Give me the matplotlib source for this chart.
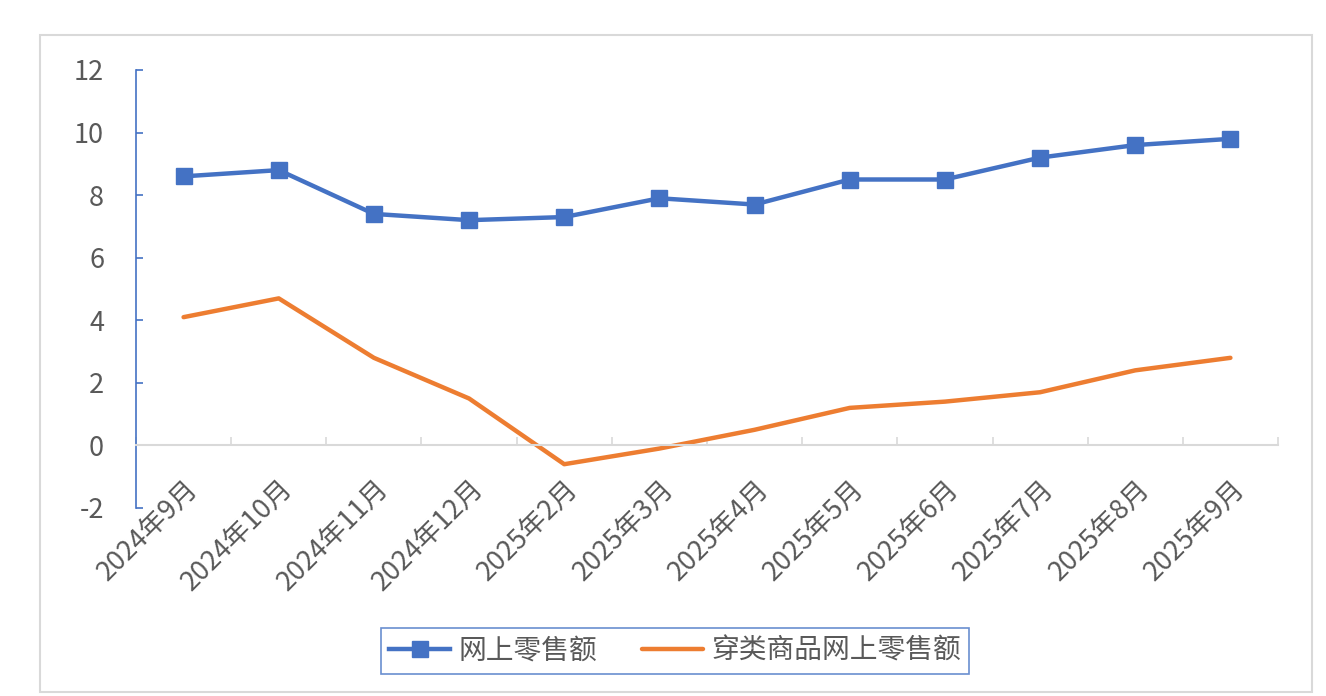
import matplotlib
matplotlib.use('Agg')
import matplotlib.pyplot as plt
import matplotlib.transforms as mtransforms
from matplotlib.patches import Rectangle

plt.rcParams['font.family'] = ['Noto Sans CJK SC', 'DejaVu Sans']

# 数据
months = ['2024年9月', '2024年10月', '2024年11月', '2024年12月', '2025年2月', '2025年3月',
          '2025年4月', '2025年5月', '2025年6月', '2025年7月', '2025年8月', '2025年9月']
online_retail = [8.6, 8.8, 7.4, 7.2, 7.3, 7.9, 7.7, 8.5, 8.5, 9.2, 9.6, 9.8]
apparel_online = [4.1, 4.7, 2.8, 1.5, -0.6, -0.1, 0.5, 1.2, 1.4, 1.7, 2.4, 2.8]
y_ticks = [-2, 0, 2, 4, 6, 8, 10, 12]

blue = '#4472C4'
orange = '#ED7D31'
grey_txt = '#595959'
grey_line = '#D9D9D9'

fig = plt.figure(figsize=(13.26, 6.96), dpi=100)
fig.patches.append(Rectangle((40 / 1326, 4 / 696), 1272 / 1326, 657 / 696,
                             transform=fig.transFigure, fill=False,
                             edgecolor=grey_line, linewidth=1.5))
ax = fig.add_axes([136 / 1326, 1 - 508 / 696, 1142 / 1326, 438 / 696])

x = list(range(len(months)))
ax.plot(x, online_retail, color=blue, linewidth=3.2, marker='s', markersize=11,
        label='网上零售额')
ax.plot(x, apparel_online, color=orange, linewidth=3.2, solid_capstyle='round',
        label='穿类商品网上零售额')

ax.set_xlim(-0.5, len(months) - 0.5)
ax.set_ylim(-2, 12)
ax.set_yticks(y_ticks)
ax.set_yticklabels([str(v) for v in y_ticks])

# 坐标轴样式
ax.spines['top'].set_visible(False)
ax.spines['right'].set_visible(False)
ax.spines['bottom'].set_position(('data', 0))
ax.spines['bottom'].set_color(grey_line)
ax.spines['bottom'].set_linewidth(1.5)
ax.spines['left'].set_color(blue)
ax.spines['left'].set_linewidth(1.2)

ax.tick_params(axis='y', direction='in', length=5, width=1.2, color=blue,
               labelcolor=grey_txt, labelsize=19.5, pad=23)
ax.set_xticks(x)
ax.set_xticks([i - 0.5 for i in range(len(months) + 1)], minor=True)
ax.set_xticklabels(months, rotation=45, ha='right', va='center',
                   rotation_mode='anchor', fontsize=19.5, color=grey_txt)
ax.tick_params(axis='x', which='major', length=0, pad=28)
ax.tick_params(axis='x', which='minor', direction='in', length=6, width=1.2,
               color=grey_line)
shift = mtransforms.ScaledTranslation(10 / 100, 0, fig.dpi_scale_trans)
for lab in ax.get_xticklabels():
    lab.set_transform(lab.get_transform() + shift)

leg = fig.legend(loc='center', bbox_to_anchor=(675 / 1326, 1 - 651 / 696), ncol=2,
                 fontsize=20, frameon=True, fancybox=False, handlelength=2.2,
                 columnspacing=1.6, handletextpad=0.3, borderpad=0.3,
                 borderaxespad=0)
leg.get_frame().set_edgecolor(blue)
leg.get_frame().set_linewidth(1.2)
for t in leg.get_texts():
    t.set_color(grey_txt)

fig.savefig('out.png', dpi=100)
